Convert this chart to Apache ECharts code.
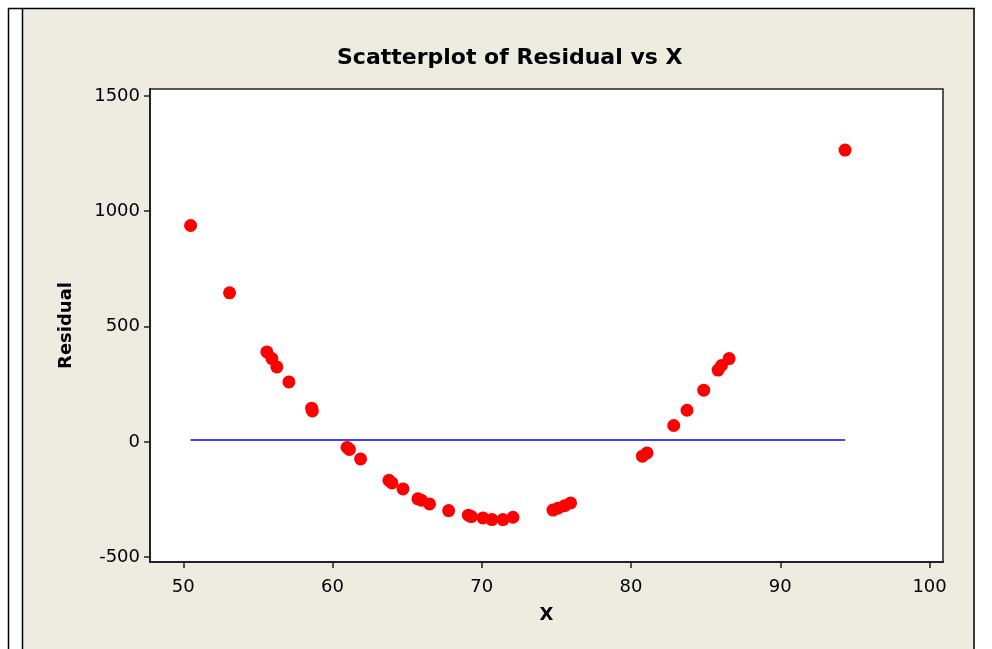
<!DOCTYPE html>
<html>
<head>
<meta charset="utf-8">
<script src="https://cdn.jsdelivr.net/npm/echarts@6/dist/echarts.min.js"></script>
<style>
html,body{margin:0;padding:0;background:#fff;}
#c{width:992px;height:649px;}
</style>
</head>
<body>
<div id="c"></div>
<script>
// Data
const xValues = [50.49, 53.1, 55.6, 55.94, 56.27, 57.08, 58.6, 58.65, 60.98, 61.13, 61.88,
  63.78, 63.98, 64.72, 65.72, 65.95, 66.5, 67.78, 69.1, 69.3, 70.08, 70.68, 71.42, 72.09,
  74.77, 75.1, 75.55, 75.95, 80.76, 81.07, 82.86, 83.75, 84.87, 85.83, 86.06, 86.57, 94.34];
const residuals = [938, 646, 390, 361, 325, 260, 146, 134, -24, -33, -74,
  -167, -178, -204, -247, -253, -269, -298, -318, -324, -330, -337, -337, -327,
  -296, -288, -277, -265, -62, -48, 71, 137, 224, 311, 331, 361, 1265];
const refLineY = 8;
const xTicks = [50, 60, 70, 80, 90, 100];
const yTicks = [-500, 0, 500, 1000, 1500];

const pts = xValues.map((x, i) => [x, residuals[i]]);
const xMin = Math.min(...xValues), xMax = Math.max(...xValues);
const refLine = [[xMin, refLineY], [xMax, refLineY]];

const chart = echarts.init(document.getElementById('c'), null, {renderer: 'canvas'});
const FONT = 'DejaVu Sans';
chart.setOption({
  backgroundColor: '#EEEBE1',
  animation: false,
  title: {
    text: 'Scatterplot of Residual vs X',
    left: 332, top: 42,
    textStyle: {fontFamily: FONT, fontWeight: 'bold', fontSize: 22, color: '#000'}
  },
  graphic: [
    {type: 'rect', shape: {x: 0, y: 0, width: 992, height: 8}, style: {fill: '#fff'}, silent: true},
    {type: 'rect', shape: {x: 0, y: 0, width: 22, height: 649}, style: {fill: '#fff'}, silent: true},
    {type: 'rect', shape: {x: 975, y: 0, width: 17, height: 649}, style: {fill: '#fff'}, silent: true},
    {type: 'line', shape: {x1: 8, y1: 8.5, x2: 975, y2: 8.5}, style: {stroke: '#000', lineWidth: 1.5}, silent: true},
    {type: 'line', shape: {x1: 8.5, y1: 8, x2: 8.5, y2: 649}, style: {stroke: '#000', lineWidth: 1.5}, silent: true},
    {type: 'line', shape: {x1: 22.5, y1: 8, x2: 22.5, y2: 649}, style: {stroke: '#000', lineWidth: 1.5}, silent: true},
    {type: 'line', shape: {x1: 974, y1: 8, x2: 974, y2: 649}, style: {stroke: '#000', lineWidth: 1.5}, silent: true}
  ],
  grid: {
    left: 150, top: 89, right: 49, bottom: 87,
    show: true, backgroundColor: '#fff', borderColor: '#222', borderWidth: 1.5
  },
  xAxis: {
    type: 'value', min: 47.77, max: 100.9,
    name: 'X', nameLocation: 'middle', nameGap: 44,
    nameTextStyle: {fontFamily: FONT, fontWeight: 'bold', fontSize: 18, color: '#000'},
    axisLine: {show: true, onZero: false, lineStyle: {color: '#222', width: 2}},
    axisTick: {show: true, length: 6, customValues: xTicks, lineStyle: {color: '#222', width: 1.5}},
    axisLabel: {customValues: xTicks, margin: 16, fontFamily: FONT, fontSize: 18, color: '#000'},
    splitLine: {show: false}
  },
  yAxis: {
    type: 'value', min: -521, max: 1530,
    name: 'Residual', nameLocation: 'middle', nameGap: 75, nameRotate: 90,
    nameTextStyle: {fontFamily: FONT, fontWeight: 'bold', fontSize: 18, color: '#000'},
    axisLine: {show: true, onZero: false, lineStyle: {color: '#222', width: 2}},
    axisTick: {show: true, length: 6, customValues: yTicks, lineStyle: {color: '#222', width: 1.5}},
    axisLabel: {customValues: yTicks, margin: 10, fontFamily: FONT, fontSize: 18, color: '#000',
      formatter: v => String(v)},
    splitLine: {show: false}
  },
  series: [
    {
      type: 'line', data: refLine, symbol: 'none', silent: true,
      lineStyle: {color: '#0000FF', width: 1.5}, z: 2
    },
    {
      type: 'scatter', data: pts, symbol: 'circle', symbolSize: 13,
      itemStyle: {color: '#FF0000', opacity: 1}, z: 3
    }
  ]
});
</script>
</body>
</html>
